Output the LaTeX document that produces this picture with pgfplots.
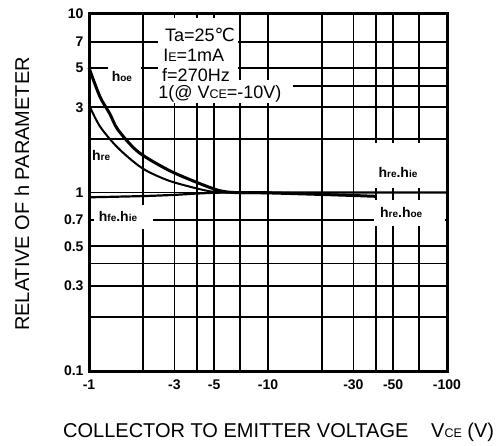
\documentclass[border=0pt]{standalone}
\usepackage{fontspec}
\setmainfont{Liberation Sans}
\newfontfamily\dejavu{DejaVu Sans}
\usepackage{pgfplots}
\pgfplotsset{compat=1.18}
\newcommand{\hs}[1]{h{\fontsize{10}{10}\selectfont #1}}
\newcommand{\sm}[1]{{\fontsize{12.5}{12.5}\selectfont #1}}
\begin{document}
\begin{tikzpicture}
\path[use as bounding box] (-89pt,-74pt) rectangle (414pt,371pt);
\begin{axis}[
  at={(0pt,0pt)}, anchor=south west,
  scale only axis, width=358pt, height=357pt,
  xmode=log, ymode=log,
  xmin=1, xmax=100, ymin=0.1, ymax=10,
  xtick={1,3,5,10,30,50,100},
  xticklabels={-1,-3,-5,-10,-30,-50,-100},
  ytick={0.1,0.3,0.5,0.7,1,3,5,7,10},
  yticklabels={0.1,0.3,0.5,0.7,1,3,5,7,10},
  extra x ticks={2,4,7,20,40,70},
  extra x tick labels={},
  extra y ticks={0.2,0.4,2},
  extra y tick labels={},
  extra tick style={grid=major},
  grid=major,
  major grid style={black, line width=1.8pt},
  tick style={draw=none},
  axis line style={line width=3pt},
  /pgf/number format/assume math mode=true,
  ticklabel style={font=\bfseries\fontsize{14}{14}\selectfont},
  xticklabel style={yshift=-5pt},
  yticklabel style={xshift=-2pt},
  clip=false,
]
% white areas hiding grid behind texts
\fill[white] (rel axis cs:0.193,0.815) rectangle (rel axis cs:0.416,0.990);
\fill[white] (rel axis cs:0.184,0.751) rectangle (rel axis cs:0.570,0.815);
\fill[white] (rel axis cs:0.053,0.782) rectangle (rel axis cs:0.145,0.866);
\fill[white] (rel axis cs:0.014,0.398) rectangle (rel axis cs:0.179,0.465);
\fill[white] (rel axis cs:0.797,0.512) rectangle (rel axis cs:0.995,0.640);
\fill[white] (rel axis cs:0.797,0.406) rectangle (rel axis cs:0.995,0.479);
% grid line at 4 only on the right part
\draw[black, line width=1.8pt] (rel axis cs:0.570,0.799) -- (rel axis cs:1,0.799);
% curves
\addplot[black, line width=3pt, smooth, tension=0.5] coordinates {
  (1,5.0) (1.15,3.45) (1.31,2.75) (1.45,2.25) (1.88,1.69) (2.76,1.34)
  (3.91,1.15) (5.26,1.03) (6.5,1.0) (10,1.0)};
\addplot[black, line width=2pt, smooth, tension=0.5] coordinates {
  (1,3.1) (1.15,2.35) (1.45,1.78) (1.98,1.37) (2.76,1.17)
  (3.91,1.06) (4.9,1.01) (6,1.0)};
\addplot[black, line width=2.2pt, smooth, tension=0.5] coordinates {
  (1,0.94) (2,0.955) (3,0.97) (4.3,0.99) (7,1.0) (100,1.0)};
\addplot[black, line width=3pt, smooth, tension=0.5] coordinates {
  (7,1.0) (10,0.995) (20,0.975) (30,0.962) (40,0.952)};
% labels
\node[anchor=west, inner sep=0pt, font=\fontsize{18}{18}\selectfont] at (rel axis cs:0.212,0.941) {Ta=25{\dejavu ℃}};
\node[anchor=west, inner sep=0pt, font=\fontsize{18}{18}\selectfont] at (rel axis cs:0.207,0.885) {I\sm{E}=1mA};
\node[anchor=west, inner sep=0pt, font=\fontsize{18}{18}\selectfont] at (rel axis cs:0.204,0.829) {f=270Hz};
\node[anchor=west, inner sep=0pt, font=\fontsize{18}{18}\selectfont] at (rel axis cs:0.193,0.776) {1(@ V\sm{CE}=-10V)};
\node[inner sep=0pt, font=\bfseries\fontsize{14}{14}\selectfont] at (rel axis cs:0.092,0.824) {\hs{oe}};
\node[inner sep=0pt, font=\bfseries\fontsize{14}{14}\selectfont] at (rel axis cs:0.034,0.605) {\hs{re}};
\node[inner sep=0pt, font=\bfseries\fontsize{14}{14}\selectfont] at (rel axis cs:0.081,0.434) {\hs{fe}.\hs{ie}};
\node[inner sep=0pt, font=\bfseries\fontsize{14}{14}\selectfont] at (rel axis cs:0.863,0.557) {\hs{re}.\hs{ie}};
\node[inner sep=0pt, font=\bfseries\fontsize{14}{14}\selectfont] at (rel axis cs:0.872,0.443) {\hs{re}.\hs{oe}};
\end{axis}
\node[anchor=base west, inner sep=0pt, font=\fontsize{20}{20}\selectfont] at (-26pt,-66pt) {COLLECTOR TO EMITTER VOLTAGE};
\node[anchor=base west, inner sep=0pt, font=\fontsize{20}{20}\selectfont] at (342pt,-66pt) {V\sm{CE} (V)};
\node[rotate=90, inner sep=0pt, font=\fontsize{20}{20}\selectfont] at (-67pt,177pt) {RELATIVE OF h PARAMETER};
\end{tikzpicture}
\end{document}
